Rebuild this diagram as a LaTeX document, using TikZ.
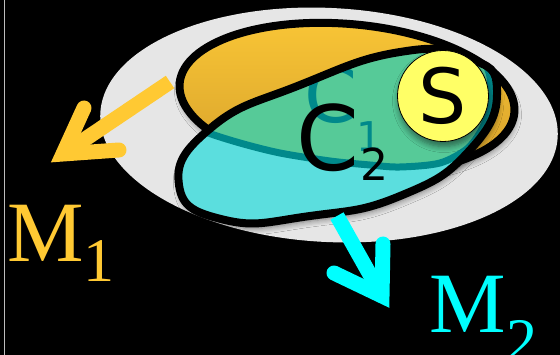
\documentclass[tikz,border=0pt]{standalone}
\usepackage{fontspec}
\setmainfont{Liberation Serif}
\newfontfamily\dejavu{DejaVu Sans}
\usetikzlibrary{shadows.blur}
\definecolor{bgline}{HTML}{BDBDBD}
\definecolor{grayell}{HTML}{E6E6E6}
\definecolor{orangetop}{HTML}{F9C636}
\definecolor{orangebot}{HTML}{D7A12B}
\definecolor{cfill}{HTML}{5BDEDE}
\definecolor{gfill}{HTML}{56CA98}
\definecolor{tealline}{HTML}{00898B}
\definecolor{syellow}{HTML}{FFFF66}
\definecolor{arrorange}{HTML}{FFC933}
\definecolor{arrcyan}{HTML}{00FFFF}
\tikzset{
  fatshaft/.style={line width=15pt, line cap=butt},
  chevron/.style={line width=15pt, line cap=round, line join=miter, miter limit=10},
  outl/.style={draw=black, line width=8pt},
  softshadow/.style={blur shadow={shadow xshift=1pt, shadow yshift=-5pt, shadow blur radius=6pt, shadow blur steps=6, shadow opacity=50}},
  lbl/.style={inner sep=0pt, anchor=base west},
}
\begin{document}
\begin{tikzpicture}[x=1pt,y=-1pt]
\useasboundingbox (0,0) rectangle (560,355);
\fill[black] (0,0) rectangle (560,355);
\begin{scope}
\clip (0,0) rectangle (560,355);
% left rule
\draw[bgline, line width=1.5pt] (4.5,0) -- (4.5,355);
% gray ellipse
\fill[grayell, shift={(329,125)}, rotate=-3] (0,0) ellipse [x radius=229pt, y radius=117pt];
% orange ellipse
\path[outl, top color=orangetop, bottom color=orangebot, softshadow, shift={(347,98)}, rotate=-5]
  (0,0) ellipse [x radius=168pt, y radius=74pt];
% C2 fill
\path[fill=cfill, softshadow] plot[smooth cycle, tension=0.85] coordinates {
 (179,185) (212,127) (300,85) (400,52) (468,58) (497,90) (470,150) (400,196) (310,216) (225,220)};
\begin{scope}
\clip plot[smooth cycle, tension=0.85] coordinates {
 (179,185) (212,127) (300,85) (400,52) (468,58) (497,90) (470,150) (400,196) (310,216) (225,220)};
\draw[fill=gfill, draw=tealline, line width=7pt] plot[smooth cycle] coordinates {
 (192,122) (250,60) (350,30) (460,30) (488,70) (490,100) (484,125) (468,148) (440,163)
 (400,167) (370,165) (330,161) (280,153) (240,143) (206,132)};
\node[lbl, text=tealline, font=\dejavu\fontsize{76}{76}\selectfont] (c1) at (304,123) {C};
\node[lbl, text=tealline, font=\dejavu\fontsize{41}{41}\selectfont] (c1sub) at (356,152) {1};
\end{scope}
% C2 outline
\draw[outl] plot[smooth cycle, tension=0.85] coordinates {
 (179,185) (212,127) (300,85) (400,52) (468,58) (497,90) (470,150) (400,196) (310,216) (225,220)};
\node[lbl, text=black, font=\dejavu\fontsize{90}{90}\selectfont] (c2) at (296,171) {C};
\node[lbl, text=black, font=\dejavu\fontsize{44}{44}\selectfont] (c2sub) at (360,181) {2};
% S circle
\node[circle, fill=syellow, draw=black, line width=0.8pt, minimum size=91pt, inner sep=0pt,
  softshadow, font=\dejavu\fontsize{76}{76}\selectfont] (s) at (443,96) {S};
% orange arrow
\coordinate (oastart) at (170,82);
\coordinate (oav) at (63,154);
\coordinate (oaa) at (84,108);
\coordinate (oab) at (119,150);
\draw[fatshaft, arrorange] (oastart) -- (oav);
\draw[chevron, arrorange] (oaa) -- (oav) -- (oab);
% cyan arrow
\coordinate (castart) at (337,216);
\coordinate (cav) at (382,296);
\coordinate (caa) at (383,244);
\coordinate (cab) at (334,273);
\draw[fatshaft, arrcyan] (castart) -- (cav);
\draw[chevron, arrcyan] (caa) -- (cav) -- (cab);
% labels
\node[lbl, text=arrorange, font=\fontsize{86}{86}\selectfont] (m1) at (7,262) {M};
\node[lbl, text=arrorange, font=\fontsize{62}{62}\selectfont] (m1sub) at (83,282) {1};
\node[lbl, text=arrcyan, font=\fontsize{86}{86}\selectfont] (m2) at (429,333) {M};
\node[lbl, text=arrcyan, font=\fontsize{62}{62}\selectfont] (m2sub) at (506,362) {2};
\end{scope}
\end{tikzpicture}
\end{document}
